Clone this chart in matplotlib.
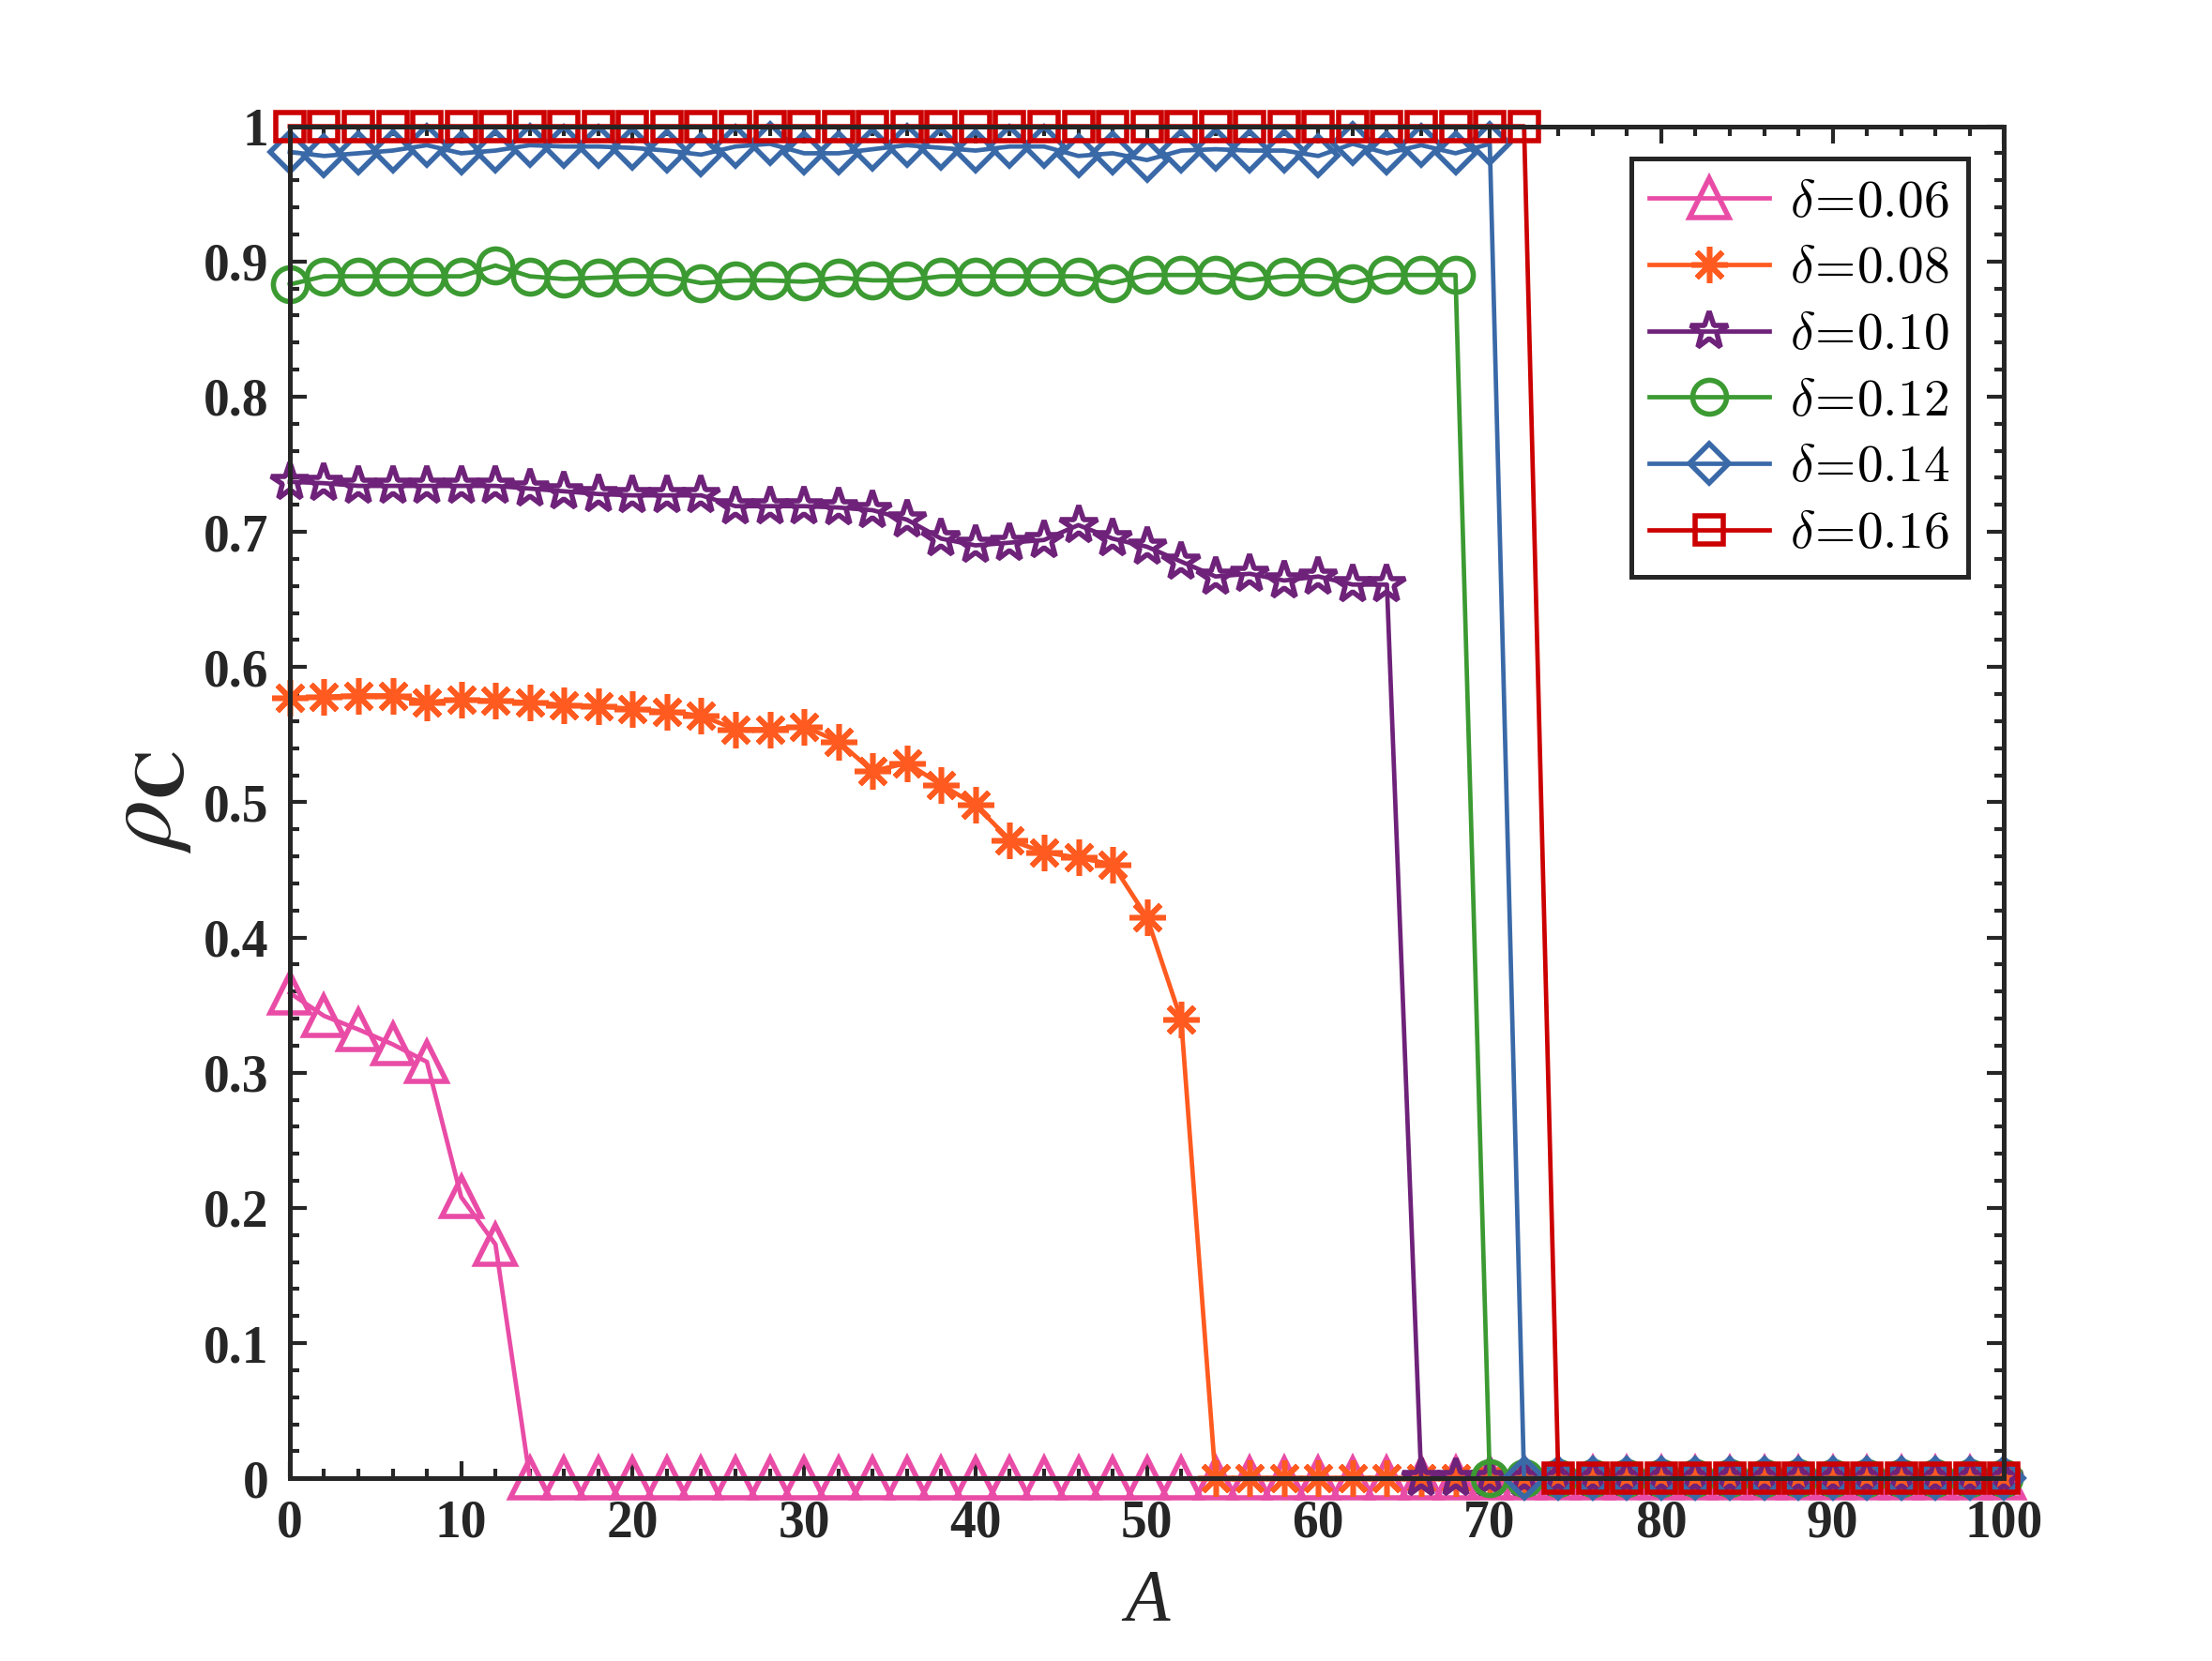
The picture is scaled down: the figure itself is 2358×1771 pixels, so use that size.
import numpy as np
import matplotlib
matplotlib.use("Agg")
import matplotlib.pyplot as plt
from matplotlib.ticker import MultipleLocator
from matplotlib.font_manager import FontProperties

# x grid: A = 0, 2, ..., 100
A = np.arange(0, 101, 2)

# values (nonzero part, rest is zero)
rho_006 = [0.359, 0.342, 0.332, 0.321, 0.308, 0.208, 0.173]
rho_008 = [0.577, 0.578, 0.579, 0.579, 0.574, 0.576, 0.575, 0.574, 0.572, 0.571,
           0.569, 0.567, 0.564, 0.554, 0.554, 0.556, 0.545, 0.523, 0.529, 0.513,
           0.498, 0.472, 0.463, 0.459, 0.454, 0.415, 0.339]
rho_010 = [0.737, 0.736, 0.734, 0.734, 0.734, 0.734, 0.734, 0.732, 0.730, 0.728,
           0.727, 0.727, 0.727, 0.719, 0.719, 0.719, 0.718, 0.716, 0.709, 0.695,
           0.690, 0.692, 0.694, 0.705, 0.695, 0.689, 0.678, 0.667, 0.669, 0.664,
           0.667, 0.661, 0.661]
rho_012 = [0.883, 0.889, 0.889, 0.889, 0.889, 0.889, 0.897, 0.889, 0.887, 0.888,
           0.889, 0.889, 0.884, 0.886, 0.886, 0.885, 0.888, 0.886, 0.886, 0.889,
           0.889, 0.889, 0.889, 0.889, 0.884, 0.890, 0.890, 0.890, 0.886, 0.889,
           0.889, 0.884, 0.890, 0.890, 0.890]
rho_014 = [0.981, 0.978, 0.980, 0.982, 0.986, 0.980, 0.982, 0.986, 0.985, 0.985,
           0.984, 0.982, 0.979, 0.985, 0.987, 0.980, 0.980, 0.983, 0.986, 0.984,
           0.982, 0.985, 0.985, 0.978, 0.980, 0.975, 0.982, 0.983, 0.982, 0.982,
           0.978, 0.987, 0.980, 0.986, 0.980, 0.987]
rho_016 = [1.0] * 37

def pad(vals):
    return np.array(list(vals) + [0.0] * (len(A) - len(vals)))

series = [
    (rho_006, r"$\delta\!=\!0.06$", "#E94CA6", "^", 15),
    (rho_008, r"$\delta\!=\!0.08$", "#FF5A1F", (8, 2, 0), 14),
    (rho_010, r"$\delta\!=\!0.10$", "#6E2279", "*", 15),
    (rho_012, r"$\delta\!=\!0.12$", "#3C9A32", "o", 13),
    (rho_014, r"$\delta\!=\!0.14$", "#3A69A8", "D", 10.5),
    (rho_016, r"$\delta\!=\!0.16$", "#CC0000", "s", 11),
]

fig = plt.figure(figsize=(11.79, 8.855), dpi=200)
ax = fig.add_axes([0.131, 0.110, 0.775, 0.814])

for vals, lab, col, mk, ms in series:
    ax.plot(A, pad(vals), color=col, lw=1.7, marker=mk, ms=ms,
            mfc="none", mec=col, mew=2.0, label=lab, clip_on=False)

ax.set_xlim(0, 100)
ax.set_ylim(0, 1)
ax.xaxis.set_major_locator(MultipleLocator(10))
ax.xaxis.set_minor_locator(MultipleLocator(2))
ax.yaxis.set_minor_locator(MultipleLocator(0.02))
ax.set_yticks(np.round(np.arange(0, 1.01, 0.1), 1))
ax.set_yticklabels(["0"] + ["%.1f" % v for v in np.arange(0.1, 0.95, 0.1)] + ["1"])

ax.tick_params(which="both", direction="in", top=True, right=True, width=1.5,
               color="#262626")
ax.tick_params(which="major", length=6.5, pad=8)
ax.tick_params(which="minor", length=3.6)
for lbl in ax.get_xticklabels() + ax.get_yticklabels():
    lbl.set_family("Liberation Serif")
    lbl.set_fontweight("bold")
    lbl.set_fontsize(20)
    lbl.set_color("#262626")
for sp in ax.spines.values():
    sp.set_linewidth(1.8)
    sp.set_color("#262626")

ax.set_xlabel("A", family="Liberation Serif", style="italic", fontsize=28,
              color="#262626", labelpad=8)
ax.set_ylabel(r"$\rho_{\mathbf{C}}$", fontsize=38, color="#262626",
              math_fontfamily="stix", labelpad=4)

fp = FontProperties(size=20)
fp.set_math_fontfamily("cm")
leg = ax.legend(loc="upper right", bbox_to_anchor=(0.979, 0.976), borderaxespad=0,
                prop=fp, fancybox=False, framealpha=1, edgecolor="#262626",
                handlelength=2.3, labelspacing=0.3, borderpad=0.35,
                handletextpad=0.4)
leg.get_frame().set_linewidth(1.8)

fig.savefig("out.png", dpi=200)
